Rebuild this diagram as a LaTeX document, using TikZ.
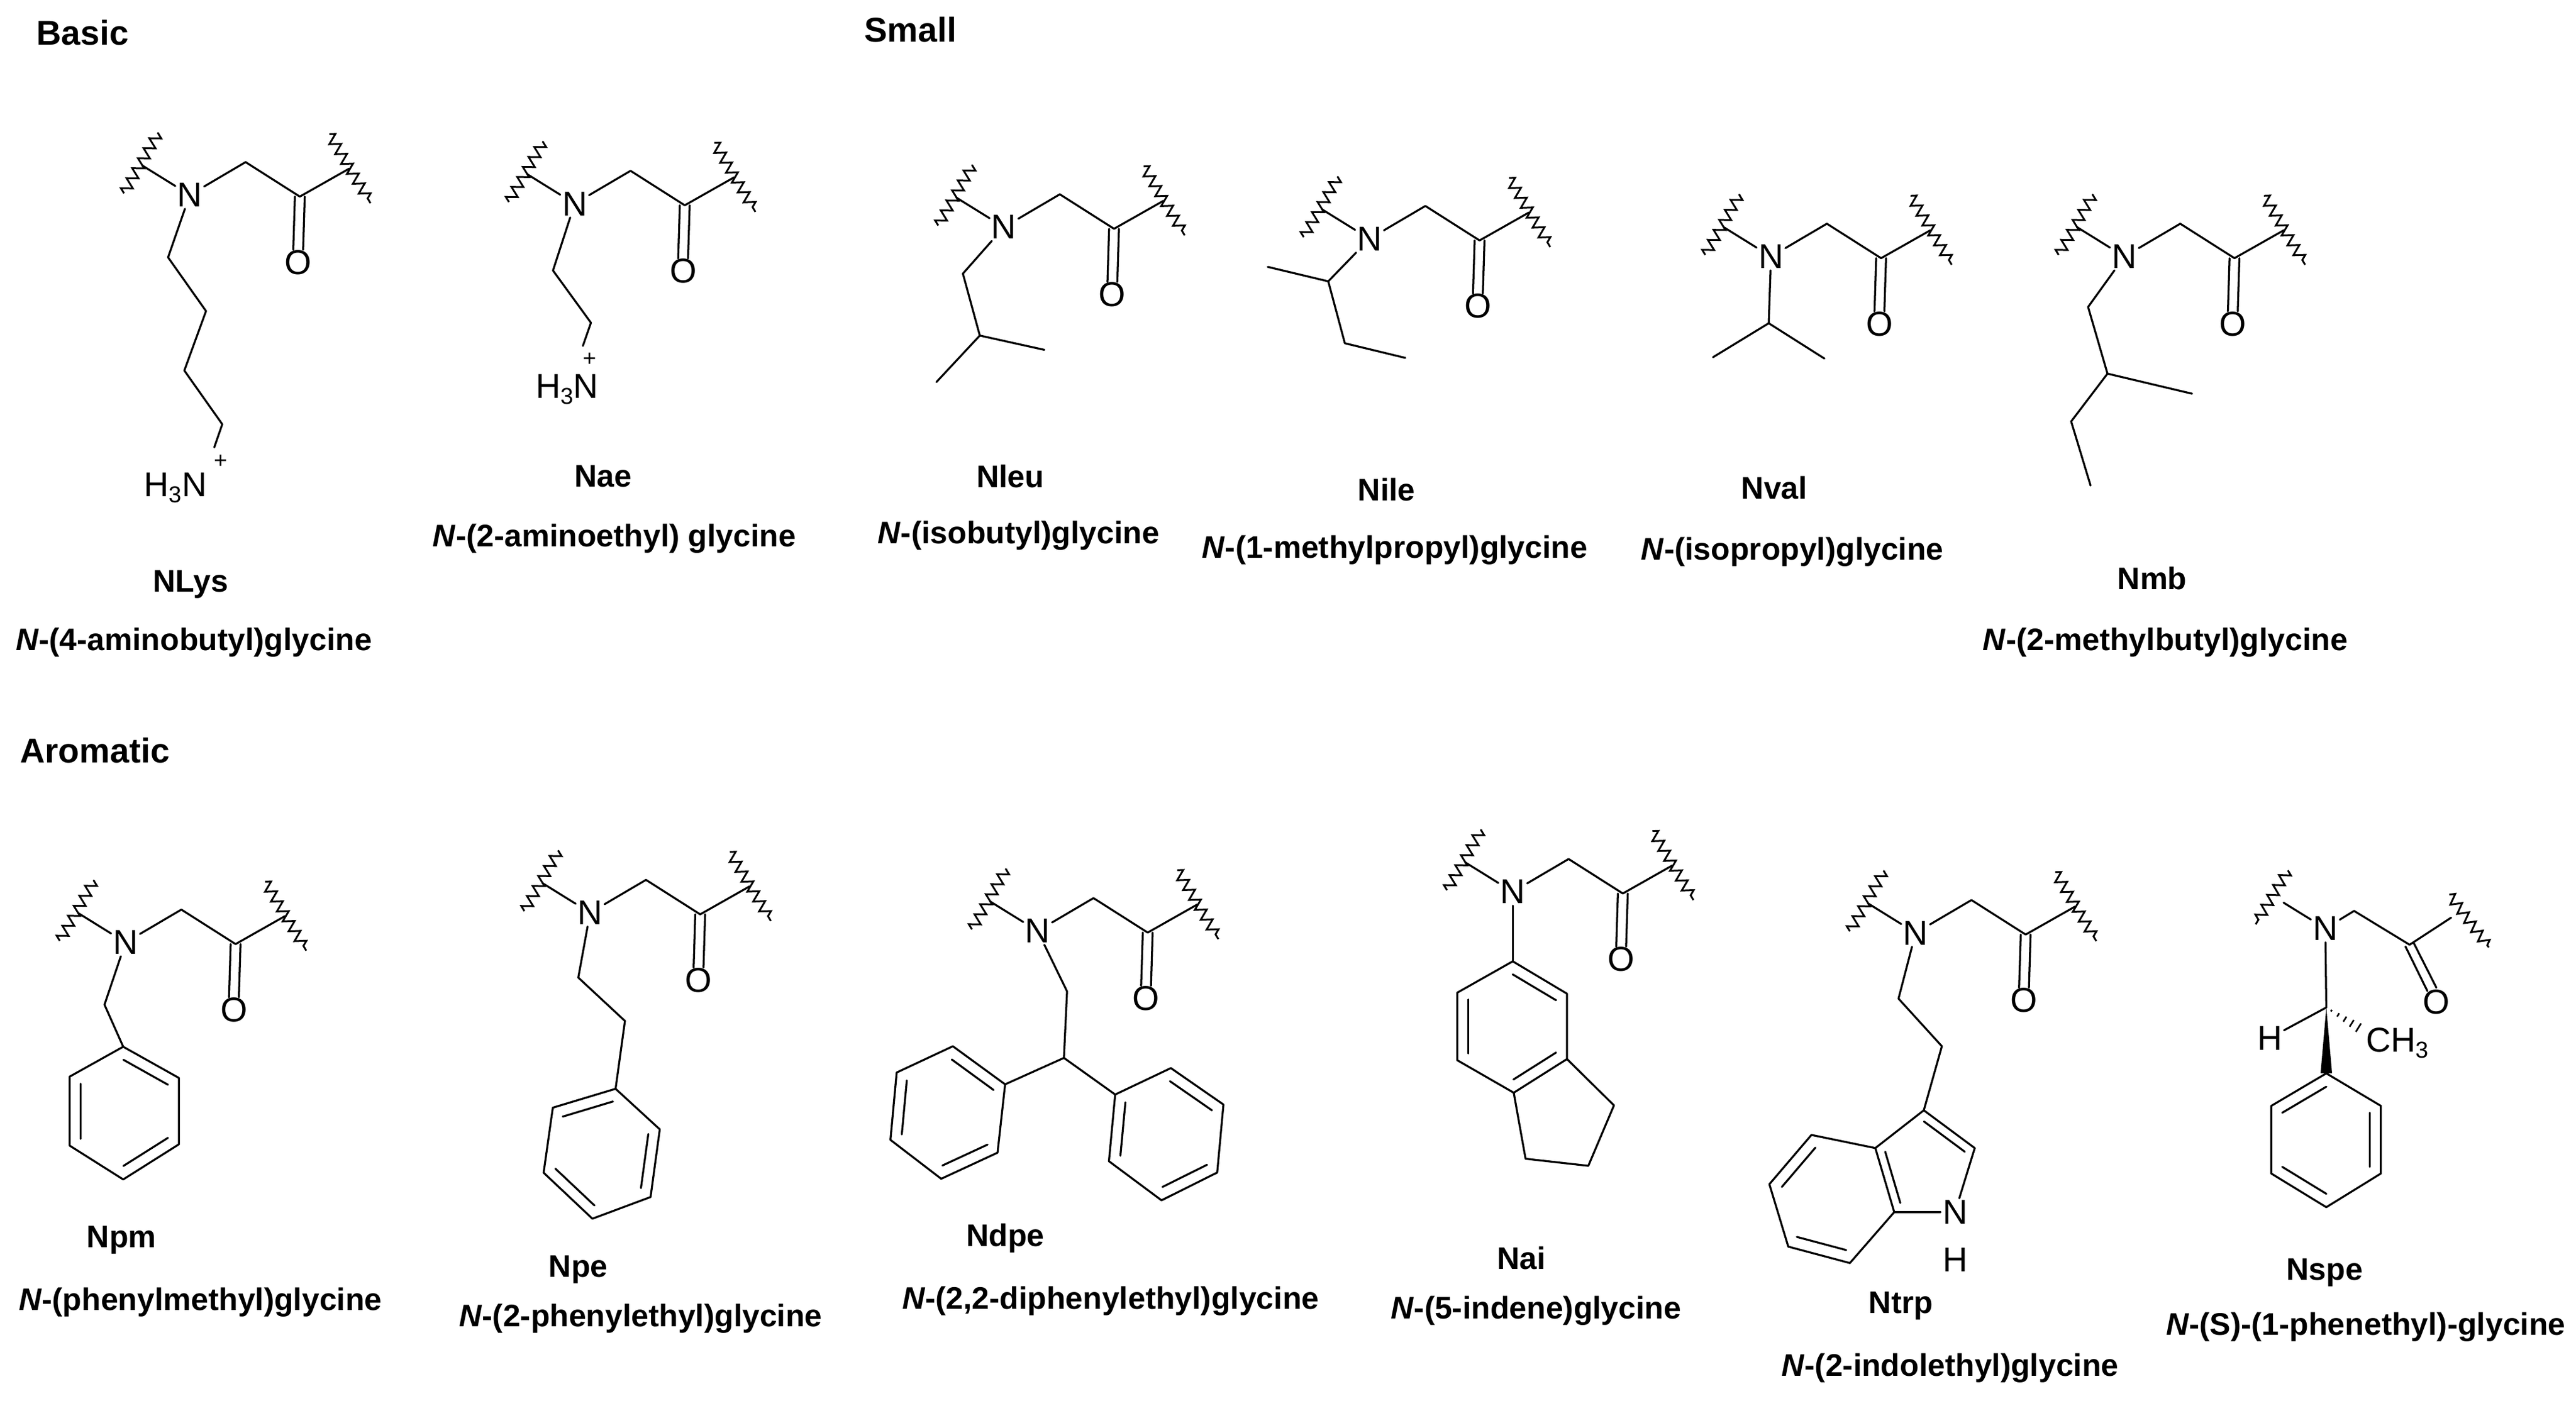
\documentclass[tikz,border=0pt]{standalone}
\usepackage{fontspec}
\setmainfont{Liberation Sans}
\usetikzlibrary{calc,decorations.pathmorphing}
\tikzset{
 bond/.style={line width=1.2pt,line cap=round,line join=round},
 wavy/.style={line width=1.1pt,decorate,decoration={zigzag,segment length=7pt,amplitude=3.2pt}},
 atom/.style={font=\fontsize{21}{21}\selectfont,inner sep=1pt},
 lab/.style={font=\fontsize{19}{20}\selectfont\bfseries,inner sep=0pt},
 head/.style={font=\fontsize{21}{21}\selectfont\bfseries,inner sep=0pt,anchor=west}
}
\newcommand\sub[1]{\raisebox{-0.35ex}{\fontsize{14}{14}\selectfont #1}}
\newcommand\dbl[3]{\draw[bond] ($(#1)!0.2!(#3)$) -- ($(#2)!0.2!(#3)$);}
\newcommand\bb[3]{%
 \begin{scope}[shift={(#2,#3)}]
 \node[atom] (#1N) at (0,0) {N};
 \coordinate (#1L) at (-29,-18);
 \coordinate (#1M) at (34,-20);
 \coordinate (#1C) at (67,1);
 \node[atom] (#1O) at (66,41) {O};
 \coordinate (#1R) at (97,-16);
 \draw[bond] (#1N) -- (#1L);
 \draw[bond] (#1N) -- (#1M) -- (#1C) -- (#1R);
 \draw[bond] ($(#1C)+(-3,0)$) -- ($(#1O.north)+(-3,1)$);
 \draw[bond] ($(#1C)+(3,0)$) -- ($(#1O.north)+(3,1)$);
 \draw[wavy] (-40,-1) -- (-19,-38);
 \draw[wavy] (85,-37) -- (110,5);
 \end{scope}}
\begin{document}
\begin{tikzpicture}[x=1pt,y=-1pt]
\useasboundingbox (0,0) rectangle (1568,855.7);
% headings
\node[head] (hb) at (22,20) {Basic};
\node[head] (hs) at (526,18) {Small};
\node[head] (ha) at (12,457) {Aromatic};

% NLys
\bb{a}{115.5}{118.7}
\coordinate (a1) at (102.3,156.7); \coordinate (a2) at (125.4,189.4);
\coordinate (a3) at (112.2,225.6); \coordinate (a4) at (135.3,258.3);
\node[atom,anchor=east] (aNH) at (127,297) {H\sub{3}N};
\node[atom,font=\fontsize{14}{14}\selectfont] (aP) at (134.5,281) {+};
\draw[bond] (aN) -- (a1) -- (a2) -- (a3) -- (a4) -- (130.4,272.4);
\node[lab] (la) at (116,356) {NLys};
\node[lab] (lan) at (118,391) {\textit{N}-(4-aminobutyl)glycine};

% Nae
\bb{b}{349.8}{124}
\coordinate (b1) at (336.6,164.7); \coordinate (b2) at (359.7,196.5);
\node[atom,anchor=east] (bNH) at (365.5,237.1) {H\sub{3}N};
\node[atom,font=\fontsize{14}{14}\selectfont] (bP) at (359,219) {+};
\draw[bond] (bN) -- (b1) -- (b2) -- (354.8,210.6);
\node[lab] (lb) at (367,290) {Nae};
\node[lab] (lbn) at (374,328) {\textit{N}-(2-aminoethyl) glycine};

% Nleu
\bb{c}{611.1}{138.3}
\coordinate (c1) at (586.1,166.6); \coordinate (c2) at (596.4,204.3);
\coordinate (c3) at (635.7,213); \coordinate (c4) at (570,232.6);
\draw[bond] (cN) -- (c1) -- (c2) -- (c3); \draw[bond] (c2) -- (c4);
\node[lab] (lc) at (615,290) {Nleu};
\node[lab] (lcn) at (620,326) {\textit{N}-(isobutyl)glycine};

% Nile
\bb{d}{833.6}{145.4}
\coordinate (d1) at (808.5,171.3); \coordinate (d2) at (771.7,162.5);
\coordinate (d3) at (818.6,209); \coordinate (d4) at (855.4,217.9);
\draw[bond] (dN) -- (d1) -- (d3) -- (d4); \draw[bond] (d1) -- (d2);
\node[lab] (ld) at (844,298) {Nile};
\node[lab] (ldn) at (849,335) {\textit{N}-(1-methylpropyl)glycine};

% Nval
\bb{e}{1078}{156.2}
\coordinate (e1) at (1076.6,196.8); \coordinate (e2) at (1042.7,217.5);
\coordinate (e3) at (1110.5,218.3);
\draw[bond] (eN) -- (e1) -- (e2); \draw[bond] (e1) -- (e3);
\node[lab] (le) at (1080,297) {Nval};
\node[lab] (len) at (1091,336) {\textit{N}-(isopropyl)glycine};

% Nmb
\bb{f}{1293.1}{156.2}
\coordinate (f1) at (1271,186.9); \coordinate (f2) at (1282.8,227.5);
\coordinate (f3) at (1334.3,239.7); \coordinate (f4) at (1260.7,256.6);
\coordinate (f5) at (1272.5,295.6);
\draw[bond] (fN) -- (f1) -- (f2) -- (f3); \draw[bond] (f2) -- (f4) -- (f5);
\node[lab] (lf) at (1310,352) {Nmb};
\node[lab] (lfn) at (1318,391) {\textit{N}-(2-methylbutyl)glycine};

% Npm
\bb{g}{76.4}{573.8}
\coordinate (g0) at (63.6,611.7);
\coordinate (g1) at (75,637.3); \coordinate (g2) at (108.9,656.3);
\coordinate (g3) at (108.9,696.7); \coordinate (g4) at (75,718.1);
\coordinate (g5) at (42.4,697.5); \coordinate (g6) at (42.4,655.5);
\coordinate (gc) at (75.6,677);
\draw[bond] (gN) -- (g0) -- (g1);
\draw[bond] (g1) -- (g2) -- (g3) -- (g4) -- (g5) -- (g6) -- cycle;
\dbl{g1}{g2}{gc} \dbl{g3}{g4}{gc} \dbl{g5}{g6}{gc}
\node[lab] (lg) at (74,755) {Npm};
\node[lab] (lgn) at (122,793) {\textit{N}-(phenylmethyl)glycine};

% Npe
\bb{h}{359.2}{555.7}
\coordinate (h01) at (352,595.2); \coordinate (h02) at (380.4,621.6);
\coordinate (h1) at (374.7,662.9); \coordinate (h2) at (401.6,687.6);
\coordinate (h3) at (396,728.8); \coordinate (h4) at (360.6,742);
\coordinate (h5) at (330.9,714); \coordinate (h6) at (336.5,674.4);
\coordinate (hc) at (366.7,701.6);
\draw[bond] (hN) -- (h01) -- (h02) -- (h1);
\draw[bond] (h1) -- (h2) -- (h3) -- (h4) -- (h5) -- (h6) -- cycle;
\dbl{h6}{h1}{hc} \dbl{h2}{h3}{hc} \dbl{h4}{h5}{hc}
\node[lab] (lh) at (352,773) {Npe};
\node[lab] (lhn) at (390,803) {\textit{N}-(2-phenylethyl)glycine};

% Ndpe
\bb{i}{631.6}{566.8}
\coordinate (i01) at (649.5,603.6); \coordinate (i02) at (647.6,644.1);
\coordinate (ia1) at (611.8,660.2); \coordinate (ia2) at (580,637);
\coordinate (ia3) at (545.8,653); \coordinate (ia4) at (542,694);
\coordinate (ia5) at (572.9,717.7); \coordinate (ia6) at (607.2,701.8);
\coordinate (iac) at (576.6,677.3);
\coordinate (ib1) at (678.8,666.4); \coordinate (ib2) at (712.7,650.3);
\coordinate (ib3) at (744.7,672.5); \coordinate (ib4) at (740.9,713.9);
\coordinate (ib5) at (707,730.8); \coordinate (ib6) at (675,707);
\coordinate (ibc) at (709.9,690.2);
\draw[bond] (iN) -- (i01) -- (i02) -- (ia1); \draw[bond] (i02) -- (ib1);
\draw[bond] (ia1) -- (ia2) -- (ia3) -- (ia4) -- (ia5) -- (ia6) -- cycle;
\draw[bond] (ib1) -- (ib2) -- (ib3) -- (ib4) -- (ib5) -- (ib6) -- cycle;
\dbl{ia1}{ia2}{iac} \dbl{ia3}{ia4}{iac} \dbl{ia5}{ia6}{iac}
\dbl{ib2}{ib3}{ibc} \dbl{ib4}{ib5}{ibc} \dbl{ib6}{ib1}{ibc}
\node[lab] (li) at (612,754) {Ndpe};
\node[lab] (lin) at (676,792) {\textit{N}-(2,2-diphenylethyl)glycine};

% Nai
\bb{j}{920.8}{543}
\coordinate (j1) at (920.8,585.3); \coordinate (j2) at (953.8,605);
\coordinate (j3) at (953.8,644.8); \coordinate (j4) at (921.4,665.3);
\coordinate (j5) at (887,645.5); \coordinate (j6) at (887,604.4);
\coordinate (jc) at (920.6,625);
\coordinate (jp1) at (982.4,673); \coordinate (jp2) at (966.8,709.8);
\coordinate (jp3) at (928.6,705.5);
\draw[bond] (jN) -- (j1);
\draw[bond] (j1) -- (j2) -- (j3) -- (j4) -- (j5) -- (j6) -- cycle;
\draw[bond] (j3) -- (jp1) -- (jp2) -- (jp3) -- (j4);
\dbl{j1}{j2}{jc} \dbl{j3}{j4}{jc} \dbl{j5}{j6}{jc}
\node[lab] (lj) at (926,766) {Nai};
\node[lab] (ljn) at (935,798) {\textit{N}-(5-indene)glycine};

% Ntrp
\bb{k}{1166}{568}
\coordinate (k01) at (1155.6,608); \coordinate (k02) at (1182,637);
\coordinate (k3) at (1171,676); \coordinate (k2) at (1202,699);
\node[atom] (kN1) at (1190,738) {N};
\node[atom] (kH) at (1190,767) {H};
\coordinate (k7a) at (1153,738); \coordinate (k3a) at (1141.5,699);
\coordinate (kb1) at (1102.6,691); \coordinate (kb2) at (1077,721);
\coordinate (kb3) at (1088.5,759); \coordinate (kb4) at (1126,769);
\coordinate (kbc) at (1114.8,729.5); \coordinate (kpc) at (1171.5,710);
\draw[bond] (kN) -- (k01) -- (k02) -- (k3);
\draw[bond] (k3a) -- (k3) -- (k2) -- (kN1) -- (k7a);
\draw[bond] (k3a) -- (kb1) -- (kb2) -- (kb3) -- (kb4) -- (k7a) -- cycle;
\dbl{k3}{k2}{kpc} \dbl{k3a}{k7a}{kpc} \dbl{kb1}{kb2}{kbc} \dbl{kb3}{kb4}{kbc}
\node[lab] (lk) at (1157,795) {Ntrp};
\node[lab] (lkn) at (1187,833) {\textit{N}-(2-indolethyl)glycine};

% Nspe
\node[atom] (mN) at (1415.4,565.3) {N};
\coordinate (mM) at (1432.9,554.6); \coordinate (mC) at (1466.7,575.2);
\node[atom] (mO) at (1483,610) {O};
\coordinate (mR) at (1492,558.7); \coordinate (mL) at (1390,549.6);
\draw[bond] (mN) -- (mL);
\draw[bond] (mN) -- (mM) -- (mC) -- (mR);
\draw[bond] ($(mC)+(-2.5,1.1)$) -- ($(mO.north)+(-5.5,2)$);
\draw[bond] ($(mC)+(2.5,-1.1)$) -- ($(mO.north)+(0,0)$);
\draw[wavy] (1392.6,529.9) -- (1373,562.8);
\draw[wavy] (1490.9,544.7) -- (1514.9,576.8);
\coordinate (mX) at (1416,613.4);
\node[atom] (mH) at (1381.5,632) {H};
\node[atom,anchor=west] (mMe) at (1439,635) {CH\sub{3}};
\coordinate (mE) at (1436.6,626.3);
\draw[bond] (mN) -- (mX) -- (mH);
\foreach \t/\w in {0.15/0.6pt,0.35/1.2pt,0.55/1.8pt,0.75/2.4pt,0.95/3pt}{
 \path ($(mX)!\t!(mE)$) coordinate (mP);
 \draw[line width=1pt] ($(mP)!\w!90:(mE)$) -- ($(mP)!\w!-90:(mE)$);
}
\coordinate (m1) at (1416,653.5); \coordinate (m2) at (1449.2,673.3);
\coordinate (m3) at (1449.2,714.5); \coordinate (m4) at (1416,735);
\coordinate (m5) at (1382.5,714.5); \coordinate (m6) at (1382.5,673.3);
\coordinate (mc) at (1416,694.2);
\fill (mX) -- ($(m1)+(3.5,0)$) -- ($(m1)+(-3.5,0)$) -- cycle;
\draw[bond] (m1) -- (m2) -- (m3) -- (m4) -- (m5) -- (m6) -- cycle;
\dbl{m6}{m1}{mc} \dbl{m2}{m3}{mc} \dbl{m4}{m5}{mc}
\node[lab] (lm) at (1415,775) {Nspe};
\node[lab] (lmn) at (1440,808) {\textit{N}-(S)-(1-phenethyl)-glycine};
\end{tikzpicture}
\end{document}
